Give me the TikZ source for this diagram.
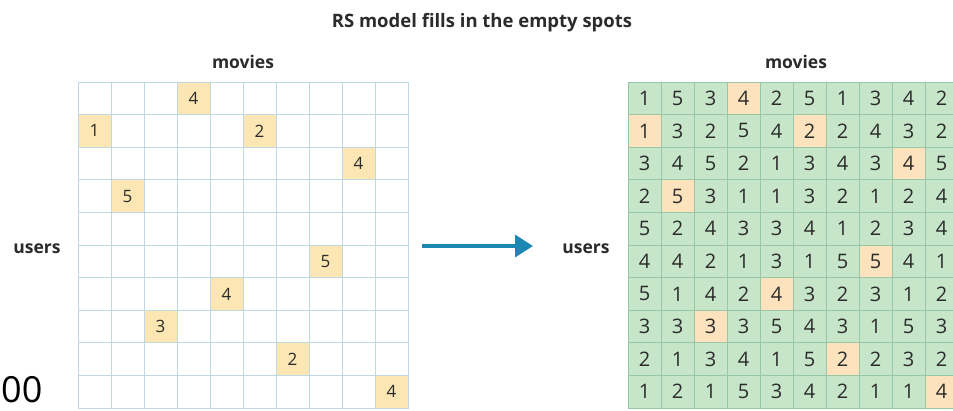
\documentclass[tikz,border=0pt]{standalone}
\usepackage{fontspec}
\setmainfont{Open Sans}
\usetikzlibrary{arrows.meta}
\definecolor{ink}{HTML}{2B2B2B}
\definecolor{gridblue}{HTML}{BFD9E2}
\definecolor{knownyellow}{HTML}{FBE6B4}
\definecolor{cellgreen}{HTML}{C7E6C9}
\definecolor{gridgreen}{HTML}{98C6A6}
\definecolor{knownpeach}{HTML}{FDE2BE}
\definecolor{arrowblue}{HTML}{1D87B4}
\tikzset{
  label/.style={font=\bfseries\fontsize{17.5}{17.5}\selectfont, text=ink, anchor=base},
  lcell/.style={draw=gridblue, line width=.8pt, fill=white, minimum width=33pt,
    minimum height=32.6pt, inner sep=0pt, text=ink, font=\fontsize{17}{17}\selectfont},
  rcell/.style={draw=gridgreen, line width=.8pt, fill=cellgreen, minimum width=33pt,
    minimum height=32.6pt, inner sep=0pt, text=ink, font=\fontsize{20}{20}\selectfont}
}
% row/column/rating of the ratings that are known
\def\knownlist{1/4/4, 2/1/1, 2/6/2, 3/9/4, 4/2/5, 6/8/5, 7/5/4, 8/3/3, 9/7/2, 10/10/4}
\begin{document}
\begin{tikzpicture}[x=1pt,y=-1pt,>=latex]
\useasboundingbox (0,0) rectangle (953,410);
\node[label,font=\bfseries\fontsize{18.5}{18.5}\selectfont] (title) at (482,27) {RS model fills in the empty spots};

% sparse matrix
\node[label] (lmovies) at (243,68) {movies};
\node[label] (lusers) at (37,253) {users};
\foreach \r in {1,...,10}
  \foreach \c in {1,...,10}
    \node[lcell] (L-\r-\c) at ({78+33*(\c-.5)},{82+32.6*(\r-.5)}) {};
\foreach \r/\c/\v in \knownlist
  \node[lcell,fill=knownyellow] (LK-\r-\c) at (L-\r-\c) {\v};

% filled matrix
\node[label] (rmovies) at (796,68) {movies};
\node[label] (rusers) at (586,253) {users};
\foreach \row [count=\r] in {{1,5,3,4,2,5,1,3,4,2},{1,3,2,5,4,2,2,4,3,2},
    {3,4,5,2,1,3,4,3,4,5},{2,5,3,1,1,3,2,1,2,4},{5,2,4,3,3,4,1,2,3,4},
    {4,4,2,1,3,1,5,5,4,1},{5,1,4,2,4,3,2,3,1,2},{3,3,3,3,5,4,3,1,5,3},
    {2,1,3,4,1,5,2,2,3,2},{1,2,1,5,3,4,2,1,1,4}}
  \foreach \v [count=\c] in \row
    \node[rcell] (R-\r-\c) at ({628+33*(\c-.5)},{82+32.6*(\r-.5)}) {\v};
\foreach \r/\c/\v in \knownlist
  \node[rcell,fill=knownpeach] (RK-\r-\c) at (R-\r-\c) {\v};

\coordinate (from) at (422,246);
\coordinate (to) at (533,246);
\draw[arrowblue,line width=3.5pt,-{Triangle[length=18pt,width=22pt]}] (from) -- (to);

\node[font=\fontsize{36}{36}\selectfont, anchor=base west, inner sep=0pt] (crop) at (1,402) {00};
\end{tikzpicture}
\end{document}
